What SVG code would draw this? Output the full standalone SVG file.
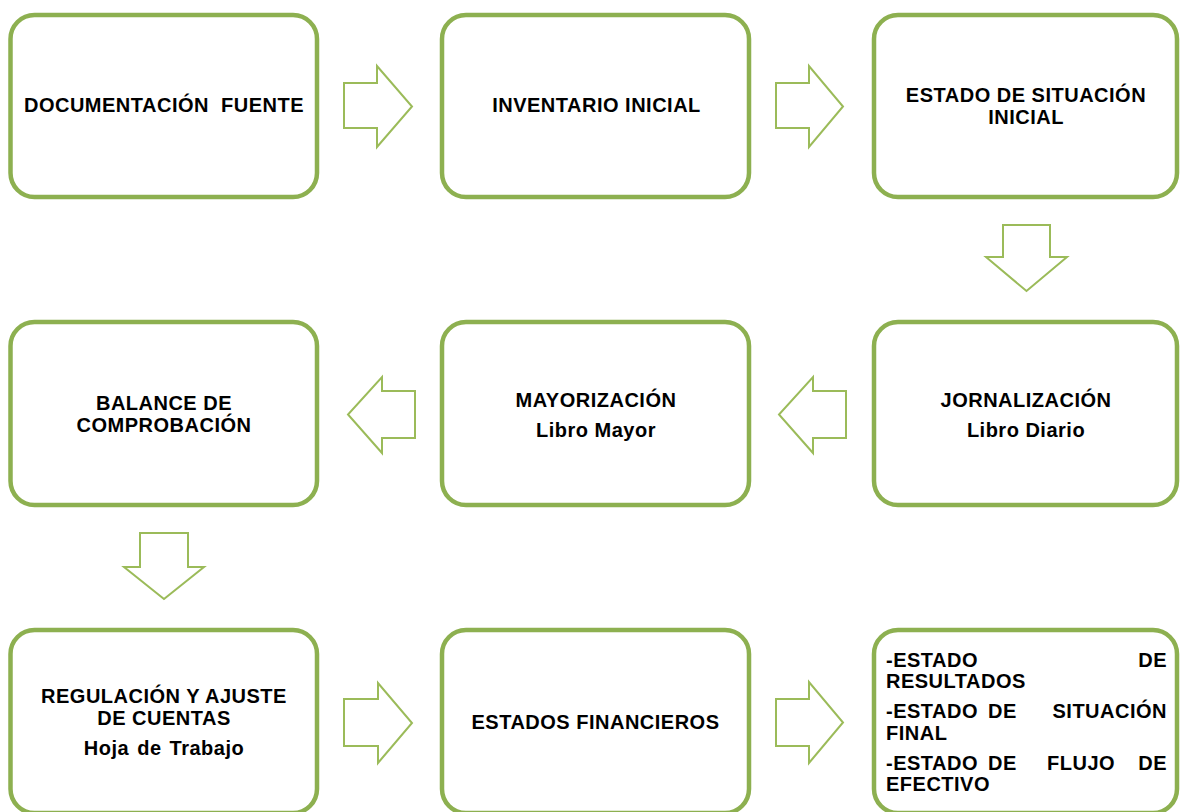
<svg xmlns="http://www.w3.org/2000/svg" width="1181" height="812" viewBox="0 0 1181 812">
<style>
.box{fill:#ffffff;stroke:#8db050;stroke-width:4.5}
.arr{fill:#ffffff;stroke:#9bbb59;stroke-width:2}
text{font-family:"Liberation Sans",Arial,sans-serif;font-weight:bold;font-size:20px;letter-spacing:0.5px;fill:#000000}
.c{text-anchor:middle}
.e{text-anchor:end}
</style>
<rect width="1181" height="812" fill="#ffffff"/>
<g id="connectors">
<polygon class="arr" points="344,83 377,83 377,66 412,106.5 377,147 377,128 344,128"/>
<polygon class="arr" points="776,83 809,83 809,66 843,106.5 809,147 809,128 776,128"/>
<polygon class="arr" points="1003,225 1050,225 1050,257 1067,257 1026.5,291 986,257 1003,257"/>
<polygon class="arr" points="846,391 813,391 813,377 779,414.5 813,453 813,438 846,438"/>
<polygon class="arr" points="415,391 382,391 382,377 348,414.5 382,453 382,438 415,438"/>
<polygon class="arr" points="140,533 188,533 188,567 204,567 164,599 124,567 140,567"/>
<polygon class="arr" points="344,699 378,699 378,683 412,723 378,763 378,746 344,746"/>
<polygon class="arr" points="776,699 809,699 809,682 843,722.5 809,763 809,746 776,746"/>
</g>
<g id="n1"><rect class="box" x="10.5" y="15" width="306.5" height="182" rx="24"/>
<text class="c" x="164" y="112" word-spacing="6">DOCUMENTACIÓN FUENTE</text></g>
<g id="n2"><rect class="box" x="442" y="15" width="307" height="182" rx="24"/>
<text class="c" x="596.5" y="112">INVENTARIO INICIAL</text></g>
<g id="n3"><rect class="box" x="874" y="15" width="303" height="182" rx="24"/>
<text class="c" x="1026" y="102">ESTADO DE SITUACIÓN</text>
<text class="c" x="1026" y="124">INICIAL</text></g>
<g id="n4"><rect class="box" x="874" y="322" width="303" height="183" rx="24"/>
<text class="c" x="1026" y="406.5">JORNALIZACIÓN</text>
<text class="c" x="1026" y="437">Libro Diario</text></g>
<g id="n5"><rect class="box" x="442" y="322" width="307" height="183" rx="24"/>
<text class="c" x="596" y="406.5">MAYORIZACIÓN</text>
<text class="c" x="596" y="437">Libro Mayor</text></g>
<g id="n6"><rect class="box" x="10.5" y="322" width="306.5" height="183" rx="24"/>
<text class="c" x="164" y="410">BALANCE DE</text>
<text class="c" x="164" y="432">COMPROBACIÓN</text></g>
<g id="n7"><rect class="box" x="10.5" y="630" width="306.5" height="183" rx="24"/>
<text class="c" x="164" y="703">REGULACIÓN Y AJUSTE</text>
<text class="c" x="164" y="725">DE CUENTAS</text>
<text class="c" x="164" y="755" word-spacing="2">Hoja de Trabajo</text></g>
<g id="n8"><rect class="box" x="442" y="630" width="307" height="183" rx="24"/>
<text class="c" x="595.5" y="729">ESTADOS FINANCIEROS</text></g>
<g id="n9"><rect class="box" x="874" y="630" width="303" height="183" rx="24"/>
<text x="886" y="667">-ESTADO</text><text class="e" x="1167" y="667">DE</text>
<text x="886" y="688">RESULTADOS</text>
<text x="886" y="718">-ESTADO</text><text x="988" y="718">DE</text><text class="e" x="1167" y="718">SITUACIÓN</text>
<text x="886" y="740">FINAL</text>
<text x="886" y="770">-ESTADO</text><text x="988" y="770">DE</text><text x="1047" y="770">FLUJO</text><text class="e" x="1167" y="770">DE</text>
<text x="886" y="791">EFECTIVO</text></g>
</svg>
